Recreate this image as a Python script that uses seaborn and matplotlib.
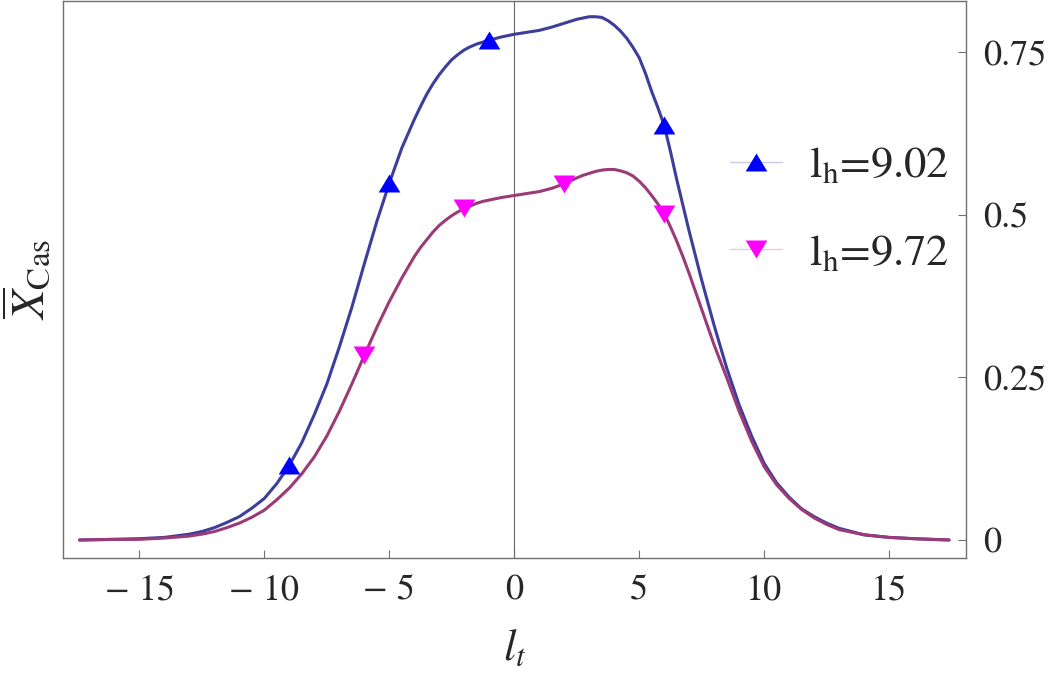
import numpy as np
import pandas as pd
import matplotlib
matplotlib.use("Agg")
import matplotlib.pyplot as plt
from matplotlib.lines import Line2D
import seaborn as sns

# ---------------- data ----------------
lt = [-17.4, -16, -15, -14, -13,
      -12.5, -12, -11.5, -11, -10.5,
      -10, -9.5, -9, -8.5, -8,
      -7.5, -7, -6.5, -6, -5.5,
      -5, -4.5, -4, -3.75, -3.5,
      -3.25, -3, -2.75, -2.5, -2.25,
      -2, -1.75, -1.5, -1.25, -1,
      -0.5, 0, 0.5, 1, 1.5,
      2, 2.5, 2.75, 3, 3.25,
      3.5, 3.75, 4, 4.25, 4.5,
      4.75, 5, 5.25, 5.5, 5.75,
      6, 6.25, 6.5, 6.75, 7,
      7.5, 8, 8.5, 9, 9.5,
      10, 10.5, 11, 11.5, 12,
      12.5, 13, 14, 15, 16,
      17.4]
x_cas_902 = [0.000, 0.001, 0.002, 0.004, 0.009,
             0.013, 0.019, 0.027, 0.036, 0.049,
             0.064, 0.087, 0.115, 0.150, 0.193,
             0.240, 0.297, 0.358, 0.425, 0.490,
             0.549, 0.603, 0.647, 0.667, 0.686,
             0.702, 0.716, 0.728, 0.739, 0.747,
             0.754, 0.759, 0.763, 0.766, 0.769,
             0.774, 0.778, 0.781, 0.784, 0.789,
             0.795, 0.801, 0.803, 0.805, 0.805,
             0.804, 0.799, 0.792, 0.783, 0.772,
             0.758, 0.742, 0.718, 0.690, 0.665,
             0.638, 0.598, 0.555, 0.515, 0.475,
             0.400, 0.330, 0.265, 0.208, 0.160,
             0.118, 0.088, 0.066, 0.048, 0.036,
             0.026, 0.018, 0.008, 0.004, 0.002,
             0.000]
x_cas_972 = [0.000, 0.001, 0.001, 0.003, 0.006,
             0.009, 0.013, 0.019, 0.026, 0.035,
             0.046, 0.062, 0.080, 0.102, 0.128,
             0.160, 0.198, 0.240, 0.284, 0.327,
             0.367, 0.403, 0.436, 0.450, 0.462,
             0.474, 0.484, 0.492, 0.499, 0.505,
             0.510, 0.514, 0.518, 0.521, 0.523,
             0.527, 0.530, 0.533, 0.536, 0.541,
             0.548, 0.557, 0.561, 0.564, 0.567,
             0.569, 0.570, 0.570, 0.568, 0.565,
             0.560, 0.552, 0.542, 0.530, 0.517,
             0.502, 0.482, 0.460, 0.436, 0.410,
             0.355, 0.300, 0.250, 0.198, 0.152,
             0.113, 0.085, 0.064, 0.047, 0.034,
             0.024, 0.016, 0.008, 0.004, 0.002,
             0.000]

mk_x_902 = [-9, -5, -1, 6]
mk_y_902 = [0.115, 0.549, 0.769, 0.638]
mk_x_972 = [-6, -2, 2, 6]
mk_y_972 = [0.284, 0.510, 0.548, 0.502]

series_labels = [r"$\mathrm{l_h}$=9.02", r"$\mathrm{l_h}$=9.72"]
x_ticks = [-15, -10, -5, 0, 5, 10, 15]
x_tick_labels = ["\u2212 15", "\u2212 10", "\u2212 5", "0", "5", "10", "15"]
y_ticks = [0, 0.25, 0.5, 0.75]
y_tick_labels = ["0", "0.25", "0.5", "0.75"]

# ---------------- style ----------------
sns.set_style("white")
plt.rcParams["font.family"] = ["STIXGeneral", "DejaVu Serif"]
plt.rcParams["mathtext.fontset"] = "stix"

line_blue = "#3d3d9c"
line_purple = "#9a3a76"
mk_blue = "#0000ff"
mk_mag = "#ff00ff"
frame_col = "#707070"

up_tri = [(0, 0.83), (-1, -0.83), (1, -0.83)]
dn_tri = [(0, -0.83), (-1, 0.83), (1, 0.83)]

fig = plt.figure(figsize=(10.5, 6.78), dpi=100)
ax = fig.add_axes([63 / 1050, 1 - 558 / 678, (966 - 63) / 1050, (557) / 678])

df = pd.DataFrame({"lt": lt, "a": x_cas_902, "b": x_cas_972})

ax.axvline(0, color="#666666", lw=0.8, zorder=1)

sns.lineplot(data=df, x="lt", y="a", ax=ax, color=line_blue, lw=2.2,
             estimator=None, sort=False, zorder=3)
sns.lineplot(data=df, x="lt", y="b", ax=ax, color=line_purple, lw=2.2,
             estimator=None, sort=False, zorder=3)

ax.scatter(mk_x_902, mk_y_902, marker=up_tri, s=15.6 ** 2, color=mk_blue,
           linewidths=0, zorder=5)
ax.scatter(mk_x_972, mk_y_972, marker=dn_tri, s=15.6 ** 2, color=mk_mag,
           linewidths=0, zorder=5)

ax.set_xlim(-18.06, 18.08)
ax.set_ylim(-0.0277, 0.8292)

ax.set_xticks(x_ticks)
ax.set_xticklabels(x_tick_labels)
ax.set_yticks(y_ticks)
ax.set_yticklabels(y_tick_labels)
ax.yaxis.tick_right()
ax.yaxis.set_label_position("left")
ax.tick_params(axis="x", direction="in", length=6, width=0.8, color=frame_col,
               labelsize=26, pad=12, top=False, bottom=True)
ax.tick_params(axis="y", direction="in", length=6, width=0.8, color=frame_col,
               labelsize=26, pad=12, left=False, right=True)

for sp in ax.spines.values():
    sp.set_color(frame_col)
    sp.set_linewidth(1.0)
    sp.set_visible(True)

ax.set_xlabel(r"$l_t$", fontsize=32, labelpad=15)
ax.set_ylabel(r"$\overline{X}_{\mathrm{Cas}}$", fontsize=34, labelpad=6)

handles = [
    Line2D([], [], color="#c9c9e8", lw=1.0, marker=up_tri, markersize=15.6,
           markerfacecolor=mk_blue, markeredgewidth=0),
    Line2D([], [], color="#ebc9e0", lw=1.0, marker=dn_tri, markersize=15.6,
           markerfacecolor=mk_mag, markeredgewidth=0),
]
ax.legend(handles, series_labels, loc="center left",
          bbox_to_anchor=((730 - 63) / 903, (558 - 210) / 557),
          frameon=False, fontsize=32, handlelength=1.18, handletextpad=0.6,
          labelspacing=1.06, borderpad=0, borderaxespad=0)

fig.savefig("out.png", dpi=100)
